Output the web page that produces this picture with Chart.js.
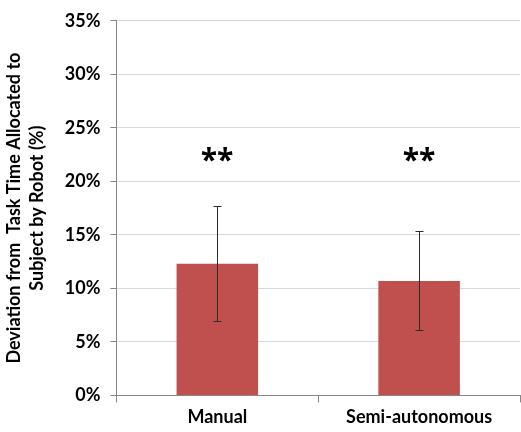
<!DOCTYPE html>
<html>
<head>
<meta charset="utf-8">
<script src="https://cdn.jsdelivr.net/npm/chart.js@4"></script>
<style>
  html, body { margin: 0; padding: 0; background: #fff; }
  #wrap { width: 521px; height: 432px; }
</style>
</head>
<body>
<div id="wrap"><canvas id="chart"></canvas></div>
<script>
// data
const categories = ["Manual", "Semi-autonomous"];
const means = [12.3, 10.7];
const errLow = [6.95, 6.1];
const errHigh = [17.65, 15.4];
const marks = ["**", "**"];
const markAt = [22.4, 22.4];

const FONT = "Lato, 'Open Sans', sans-serif";

// error bars + significance stars
const extras = {
  id: "extras",
  afterDatasetsDraw(chart) {
    const { ctx, scales: { x, y } } = chart;
    ctx.save();
    categories.forEach((c, i) => {
      const cx = Math.round(x.getPixelForValue(i));
      const yt = Math.round(y.getPixelForValue(errHigh[i])) + 0.5;
      const yb = Math.round(y.getPixelForValue(errLow[i])) + 0.5;
      ctx.strokeStyle = "#2b2b2b";
      ctx.lineWidth = 1;
      ctx.beginPath();
      ctx.moveTo(cx + 0.5, yt);
      ctx.lineTo(cx + 0.5, yb);
      ctx.moveTo(cx - 3.5, yt);
      ctx.lineTo(cx + 4.5, yt);
      ctx.moveTo(cx - 3.5, yb);
      ctx.lineTo(cx + 4.5, yb);
      ctx.stroke();

      ctx.fillStyle = "#000";
      ctx.font = "bold 30px 'Open Sans', sans-serif";
      ctx.textAlign = "center";
      ctx.textBaseline = "middle";
      ctx.fillText(marks[i], cx, y.getPixelForValue(markAt[i]) + 6);
    });
    ctx.restore();
  }
};

new Chart(document.getElementById("chart"), {
  type: "bar",
  data: {
    labels: categories,
    datasets: [{
      data: means,
      backgroundColor: "#c0504d",
      borderWidth: 0,
      barPercentage: 0.404,
      categoryPercentage: 1
    }]
  },
  options: {
    responsive: true,
    maintainAspectRatio: false,
    animation: false,
    layout: { padding: { top: 0, right: 1, left: 2, bottom: 0 } },
    plugins: { legend: { display: false }, tooltip: { enabled: false } },
    scales: {
      x: {
        grid: { display: true, drawOnChartArea: false, offset: true, tickLength: 7, color: "#868686" },
        border: { color: "#868686" },
        ticks: { color: "#000", font: { family: FONT, size: 18, weight: "bold" }, padding: 4 }
      },
      y: {
        min: 0,
        max: 35,
        ticks: {
          stepSize: 5,
          color: "#000",
          font: { family: FONT, size: 18, weight: "bold" },
          padding: 10,
          callback: v => v + "%"
        },
        grid: { color: "#d9d9d9", tickLength: 6, tickColor: "#868686" },
        border: { color: "#868686" },
        title: {
          display: true,
          text: ["Deviation from  Task Time Allocated to", "Subject by Robot (%)"],
          color: "#000",
          font: { family: FONT, size: 18, weight: "bold", lineHeight: 1.3 },
          padding: { top: 0, bottom: 6 }
        }
      }
    }
  },
  plugins: [extras]
});
</script>
</body>
</html>
